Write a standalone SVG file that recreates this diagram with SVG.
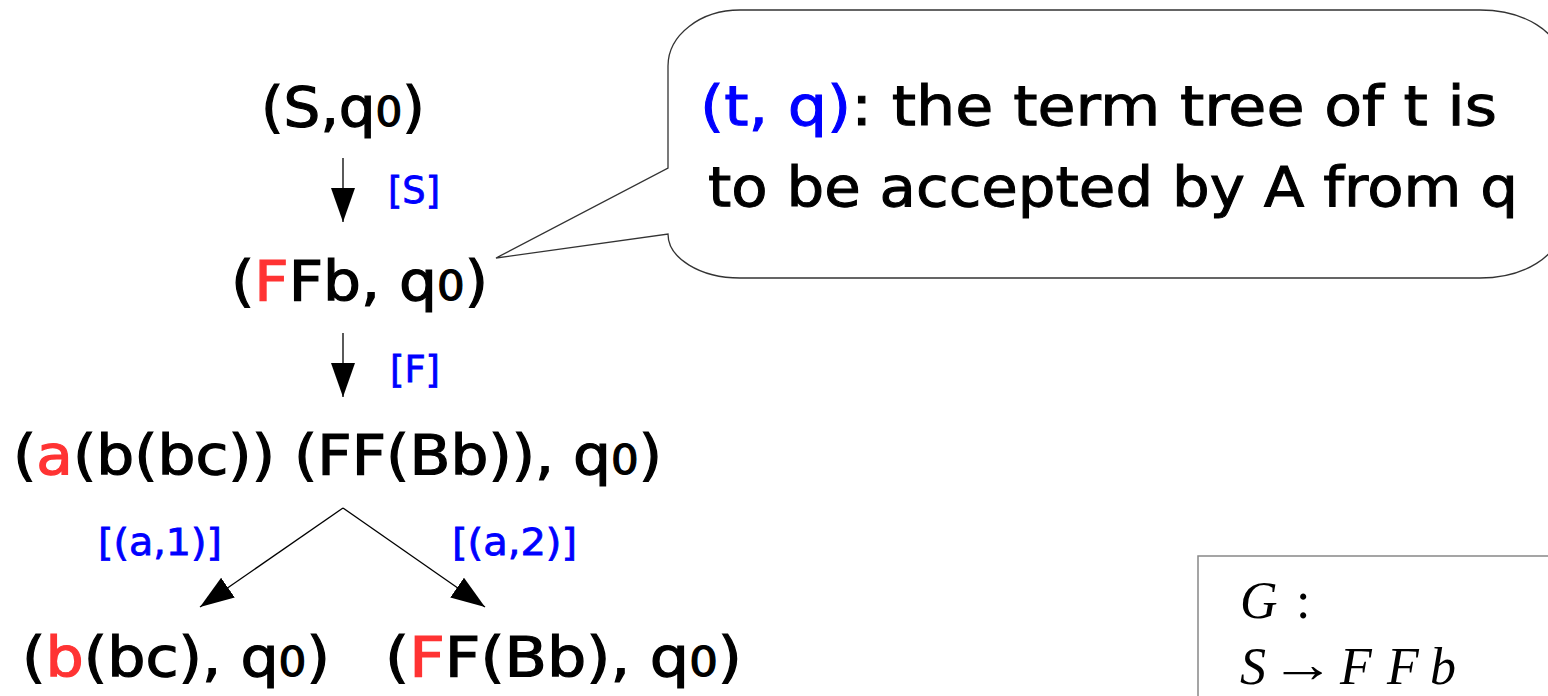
<svg xmlns="http://www.w3.org/2000/svg" width="1548" height="696" viewBox="0 0 1548 696">
<style>
.t{font-family:"DejaVu Sans","Noto Sans",sans-serif;font-size:55px;fill:#000;stroke:#000;stroke-width:1.2}
.l{font-family:"DejaVu Sans","Noto Sans",sans-serif;font-size:38px;fill:#0000ff;stroke:#0000ff;stroke-width:0.8}
.c{font-family:"DejaVu Sans","Noto Sans",sans-serif;font-size:56px;fill:#000;stroke:#000;stroke-width:1}
.r{fill:#ff3333;stroke:#ff3333}
.b{fill:#0000ff;stroke:#0000ff}
.s{font-size:40px}
.m{font-family:"Liberation Serif","DejaVu Serif",serif;font-size:52px;font-style:italic;fill:#000}
.n{font-family:"Liberation Serif","DejaVu Serif",serif;font-size:52px;fill:#000}
.e{stroke:#000;stroke-width:1.3;fill:none}
</style>
<defs>
<marker id="ah" markerUnits="userSpaceOnUse" markerWidth="36" markerHeight="26" refX="34" refY="12" orient="auto">
<path d="M0,0 L34,12 L0,24 Z" fill="#000"/>
</marker>
</defs>
<rect width="1548" height="696" fill="#fff"/>
<g id="callout">
<path d="M1480,10 H740 A72,56 0 0 0 668,66 V168 L496,258 L668,234 A72,44 0 0 0 740,278 H1480 A80,50 0 0 0 1560,228 V60 A80,50 0 0 0 1480,10 Z" fill="#fff" stroke="#333" stroke-width="1.3"/>
<text class="c" x="700" y="125" textLength="797" lengthAdjust="spacingAndGlyphs"><tspan class="b">(t, q)</tspan>: the term tree of t is</text>
<text class="c" x="708" y="206" textLength="810" lengthAdjust="spacingAndGlyphs">to be accepted by A from q</text>
</g>
<g id="grammar">
<rect x="1198" y="556" width="420" height="200" fill="#fff" stroke="#888" stroke-width="1.5"/>
<text class="m" x="1240" y="618">G</text>
<text class="n" x="1296" y="618">:</text>
<text class="m" x="1240" y="684">S</text>
<text class="n" x="1270" y="682" textLength="65" lengthAdjust="spacingAndGlyphs">→</text>
<text class="m" x="1340" y="684">F</text>
<text class="m" x="1387" y="684">F</text>
<text class="m" x="1430" y="684">b</text>
</g>
<g id="n1"><text class="t" x="261" y="126" textLength="164" lengthAdjust="spacingAndGlyphs">(S,q<tspan class="s">0</tspan>)</text></g>
<g id="n2"><text class="t" x="231" y="300" textLength="257" lengthAdjust="spacingAndGlyphs">(<tspan class="r">F</tspan>Fb, q<tspan class="s">0</tspan>)</text></g>
<g id="n3"><text class="t" x="13" y="474" textLength="649" lengthAdjust="spacingAndGlyphs">(<tspan class="r">a</tspan>(b(bc)) (FF(Bb)), q<tspan class="s">0</tspan>)</text></g>
<g id="n4"><text class="t" x="22" y="676" textLength="308" lengthAdjust="spacingAndGlyphs">(<tspan class="r">b</tspan>(bc), q<tspan class="s">0</tspan>)</text></g>
<g id="n5"><text class="t" x="385" y="676" textLength="357" lengthAdjust="spacingAndGlyphs">(<tspan class="r">F</tspan>F(Bb), q<tspan class="s">0</tspan>)</text></g>
<g id="connectors">
<line class="e" x1="343" y1="158" x2="343" y2="222" marker-end="url(#ah)"/>
<line class="e" x1="343" y1="333" x2="343" y2="397" marker-end="url(#ah)"/>
<line class="e" x1="343" y1="508" x2="200" y2="607" marker-end="url(#ah)"/>
<line class="e" x1="343" y1="508" x2="485" y2="607" marker-end="url(#ah)"/>
<text class="l" x="388" y="203" textLength="52" lengthAdjust="spacingAndGlyphs">[S]</text>
<text class="l" x="390" y="382" textLength="50" lengthAdjust="spacingAndGlyphs">[F]</text>
<text class="l" x="98" y="555" textLength="124" lengthAdjust="spacingAndGlyphs">[(a,1)]</text>
<text class="l" x="452" y="555" textLength="125" lengthAdjust="spacingAndGlyphs">[(a,2)]</text>
</g>
</svg>
